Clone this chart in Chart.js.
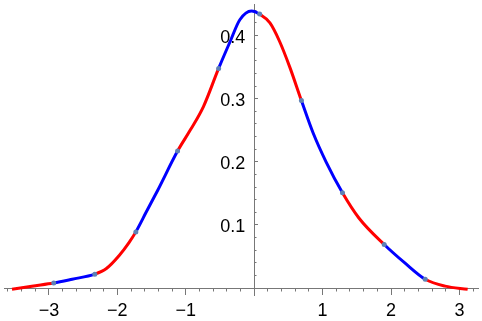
<!DOCTYPE html>
<html>
<head>
<meta charset="utf-8">
<script src="https://cdn.jsdelivr.net/npm/chart.js@4"></script>
<style>
  html, body { margin: 0; padding: 0; background: #fff; }
  canvas { display: block; }
</style>
</head>
<body>
<canvas id="densityChart" width="482" height="321"></canvas>
<script>
// Curve (x, density)
const curveX = [-3.54, -3.25, -2.93, -2.66, -2.33, -2.16, -1.97, -1.83, -1.73, -1.58, -1.41, -1.12,
                -0.93, -0.74, -0.52, -0.35, -0.21, -0.04, 0.08, 0.23, 0.37, 0.52, 0.69, 0.86,
                1.05, 1.29, 1.53, 1.90, 2.21, 2.50, 2.79, 3.12];
const curveY = [-0.002, 0.003, 0.008, 0.014, 0.022, 0.031, 0.052, 0.072, 0.089, 0.120, 0.155, 0.217,
                0.251, 0.288, 0.348, 0.391, 0.425, 0.439, 0.434, 0.420, 0.391, 0.350, 0.297, 0.246,
                0.200, 0.151, 0.111, 0.069, 0.039, 0.014, 0.003, -0.002];

// Points where the colour switches (gray dots)
const breakX = [-2.93, -2.33, -1.73, -1.12, -0.52, 0.08, 0.69, 1.29, 1.90, 2.50];

// Segment colours, alternating
const segColors = ["#ff0000", "#0000ff"];

// Axes
const xRange = [-3.657, 3.271];
const yRange = [-0.011, 0.45];
const axisColor = "#777777";

const curve = curveX.map((x, i) => ({ x: x, y: curveY[i] }));
const dots = breakX.map(bx => curve.find(p => Math.abs(p.x - bx) < 1e-9));

function segColor(ctx) {
    const x0 = ctx.p0.parsed.x + 1e-9;
    const n = breakX.filter(b => b <= x0).length;
    return segColors[n % 2];
}

function noPad(scale) {
    scale.paddingLeft = 0;
    scale.paddingRight = 0;
    scale.paddingTop = 0;
    scale.paddingBottom = 0;
}

Chart.defaults.font.family = "'Liberation Sans', Arial, sans-serif";
Chart.defaults.font.size = 18;
Chart.defaults.color = "#000";

const ctx = document.getElementById("densityChart").getContext("2d");

new Chart(ctx, {
    type: "line",
    data: {
        datasets: [
            {
                data: curve,
                order: 2,
                borderWidth: 3,
                pointRadius: 0,
                fill: false,
                cubicInterpolationMode: "monotone",
                segment: { borderColor: segColor },
                borderColor: segColors[0]
            },
            {
                data: dots,
                order: 1,
                showLine: false,
                pointRadius: 2.5,
                pointBorderWidth: 0,
                pointBackgroundColor: "#5e81b5"
            }
        ]
    },
    options: {
        responsive: false,
        animation: false,
        devicePixelRatio: 1,
        layout: { padding: { left: 2, right: 2, top: 0, bottom: 26 } },
        plugins: { legend: { display: false }, tooltip: { enabled: false } },
        scales: {
            x: {
                type: "linear",
                position: { y: 0 },
                min: xRange[0],
                max: xRange[1],
                afterFit: noPad,
                border: { display: true, color: axisColor, width: 1 },
                grid: { drawOnChartArea: false, drawTicks: true, tickLength: 6, tickColor: axisColor, tickWidth: 1 },
                ticks: {
                    stepSize: 1,
                    includeBounds: false,
                    autoSkip: false,
                    maxTicksLimit: 1000,
                    maxRotation: 0,
                    padding: 6,
                    callback: v => v === 0 ? "" : String(v).replace("-", "\u2212")
                }
            },
            xm: {
                type: "linear",
                axis: "x",
                position: { y: 0 },
                min: xRange[0],
                max: xRange[1],
                afterFit: noPad,
                border: { display: false },
                grid: { drawOnChartArea: false, drawTicks: true, tickLength: 3.5, tickColor: axisColor, tickWidth: 1 },
                ticks: { display: false, stepSize: 0.2, includeBounds: false, maxTicksLimit: 1000 }
            },
            y: {
                type: "linear",
                position: { x: 0 },
                min: yRange[0],
                max: yRange[1],
                afterFit: noPad,
                border: { display: true, color: axisColor, width: 1 },
                grid: { drawOnChartArea: false, drawTicks: true, tickLength: -4, tickColor: axisColor, tickWidth: 1 },
                ticks: {
                    stepSize: 0.1,
                    includeBounds: false,
                    autoSkip: false,
                    maxTicksLimit: 1000,
                    labelOffset: 2,
                    callback: v => Math.abs(v) < 1e-9 ? "" : v.toFixed(1) + "\u2002"
                }
            },
            ym: {
                type: "linear",
                axis: "y",
                position: { x: 0 },
                min: yRange[0],
                max: yRange[1],
                afterFit: noPad,
                border: { display: false },
                grid: { drawOnChartArea: false, drawTicks: true, tickLength: -2.5, tickColor: axisColor, tickWidth: 1 },
                ticks: { display: false, stepSize: 0.02, includeBounds: false, maxTicksLimit: 1000 }
            }
        }
    }
});
</script>
</body>
</html>
